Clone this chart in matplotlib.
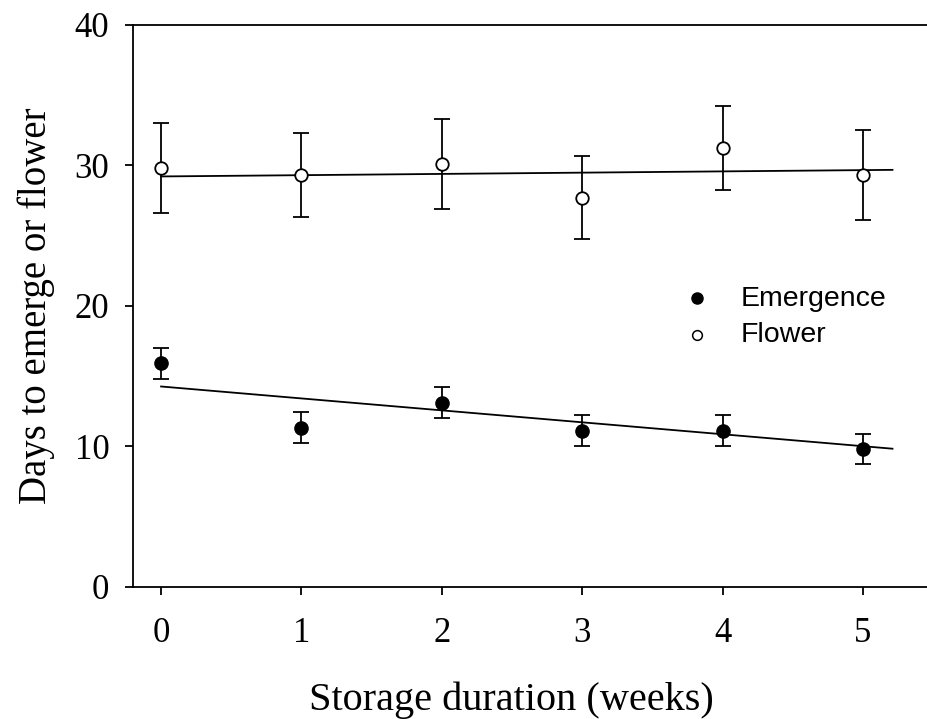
import numpy as np
import matplotlib.pyplot as plt

# Storage duration (weeks)
weeks = [0, 1, 2, 3, 4, 5]

# Days to emergence, mean and error
emerge = [15.9, 11.3, 13.1, 11.1, 11.1, 9.8]
emerge_err = [1.1, 1.1, 1.1, 1.1, 1.1, 1.1]

# Days to flower, mean and error
flower = [29.8, 29.3, 30.1, 27.7, 31.2, 29.3]
flower_err = [3.2, 3.0, 3.2, 2.95, 3.0, 3.2]

# Fitted regression lines (intercept, slope)
emerge_fit = (14.25, -0.85)
flower_fit = (29.2, 0.09)
fit_x = [0, 5.21]

fig = plt.figure(figsize=(9.27, 7.19), dpi=100)
ax = fig.add_axes([133 / 927, 1 - 586.7 / 719, 1 - 133 / 927, (586.7 - 24.7) / 719])

serif = ['Liberation Serif', 'DejaVu Serif']
sans = ['Liberation Sans', 'DejaVu Sans']

lw = 1.3
ax.errorbar(weeks, flower, yerr=flower_err, fmt='o', color='black', mfc='white',
            mec='black', ms=9, mew=lw, elinewidth=lw, capsize=5.5, capthick=lw,
            zorder=3)
ax.errorbar(weeks, emerge, yerr=emerge_err, fmt='o', color='black', mfc='black',
            ms=9.5, elinewidth=lw, capsize=5.5, capthick=lw, zorder=3)

fx = np.array(fit_x)
ax.plot(fx, flower_fit[0] + flower_fit[1] * fx, color='black', lw=lw, zorder=2)
ax.plot(fx, emerge_fit[0] + emerge_fit[1] * fx, color='black', lw=lw, zorder=2)

# legend drawn as plain markers + labels
ax.plot([3.82], [20.55], 'o', color='black', ms=8)
ax.plot([3.82], [17.95], 'o', mfc='white', mec='black', mew=1.1, ms=7)
ax.text(4.13, 20.5, 'Emergence', family=sans, fontsize=20.5, va='center')
ax.text(4.13, 17.9, 'Flower', family=sans, fontsize=20.5, va='center')

ax.set_xlim(-0.2, (927 - 161) / 140.4)
ax.set_ylim(0, 40)
ax.set_xticks(weeks)
ax.set_yticks([0, 10, 20, 30, 40])
ax.spines['right'].set_visible(False)
for s in ax.spines.values():
    s.set_linewidth(lw)
ax.tick_params(direction='out', length=6, width=lw, labelsize=25)
ax.tick_params(axis='x', pad=16)
ax.tick_params(axis='y', pad=11)
for lab in ax.get_xticklabels() + ax.get_yticklabels():
    lab.set_family(serif)

ax.set_xlabel('Storage duration (weeks)', family=serif, fontsize=29)
ax.xaxis.set_label_coords((511 - 133) / (927 - 133), -0.169)
ax.set_ylabel('Days to emerge or flower', family=serif, fontsize=28, labelpad=14)

fig.savefig('out.png', dpi=100)
